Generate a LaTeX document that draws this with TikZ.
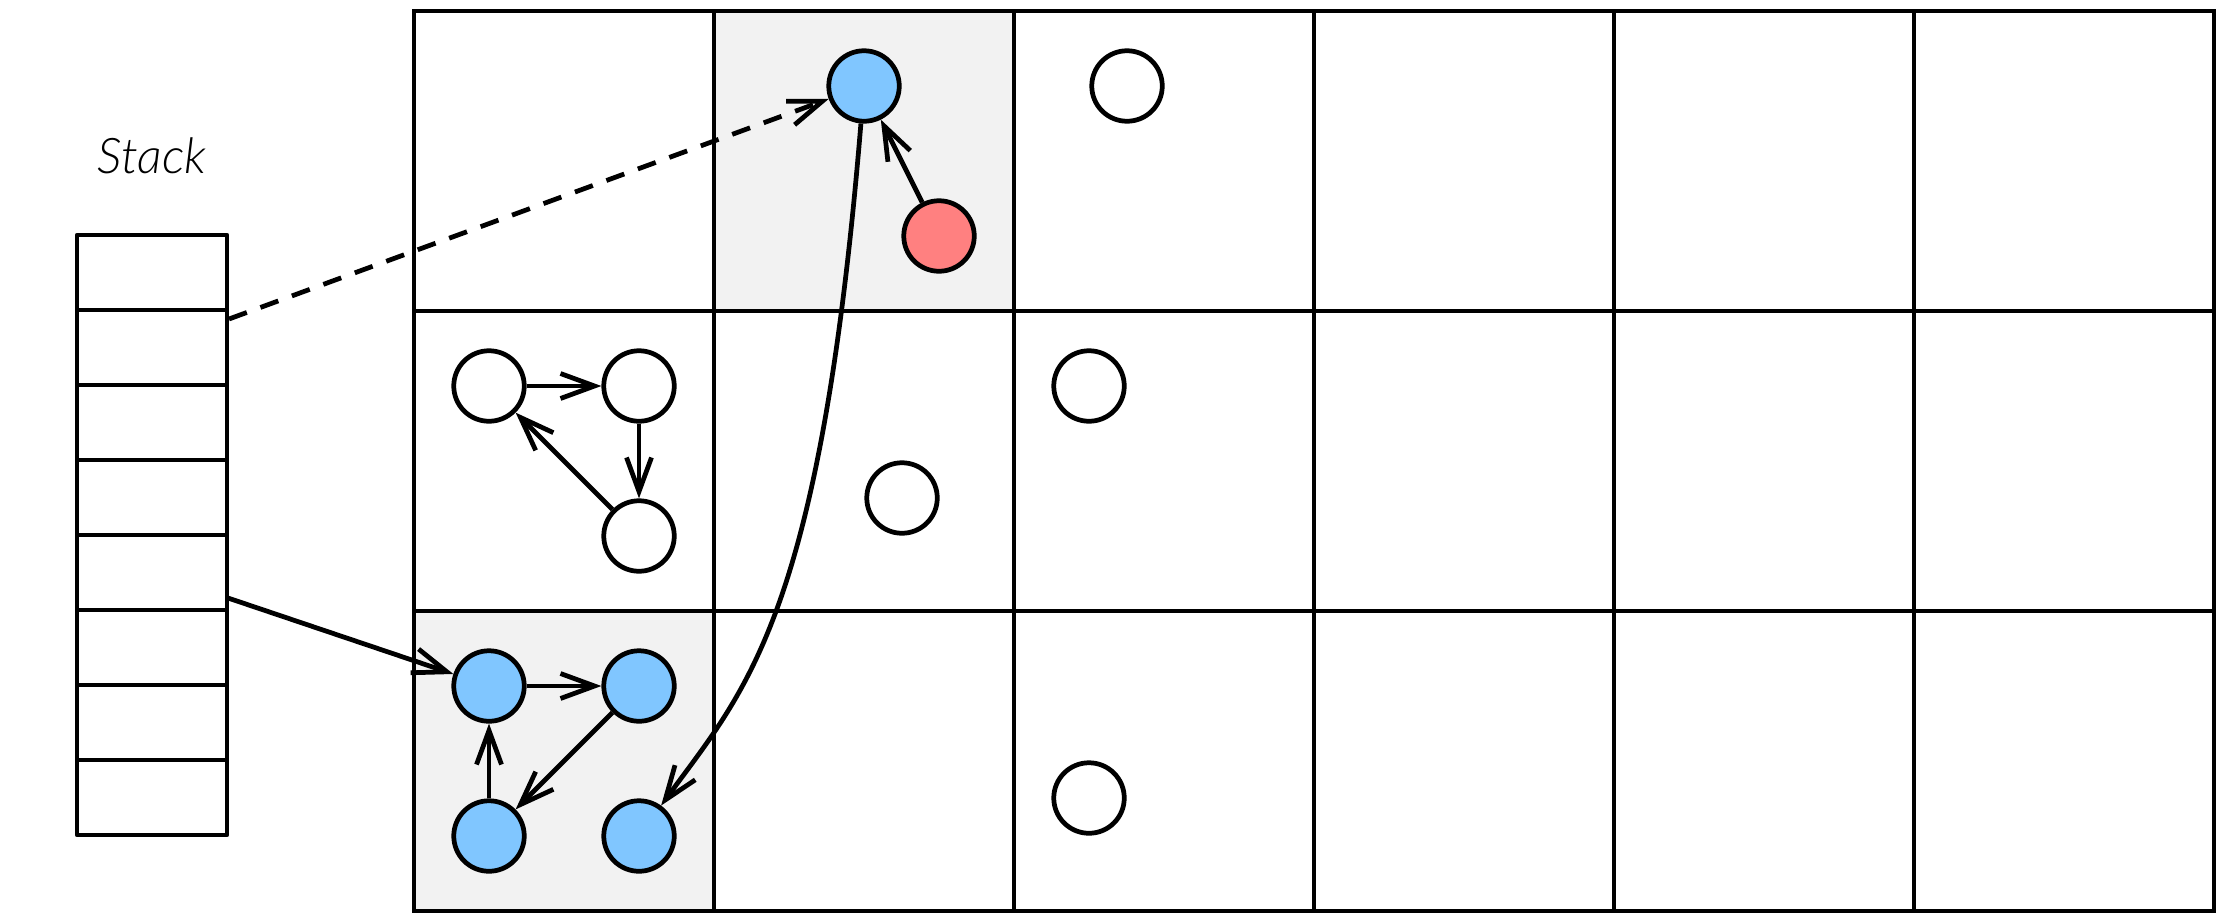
\documentclass[tikz,border=0pt]{standalone}
\usepackage{fontspec}
\newfontfamily\stackfont{Lato}[UprightFont=* Light, ItalicFont=* Light Italic]
\usepackage{tikz}
\usetikzlibrary{positioning, arrows.meta}
\definecolor{visited}{HTML}{80C6FF}
\definecolor{current}{HTML}{FF8080}
\definecolor{cellgray}{HTML}{F2F2F2}

\begin{document}
\begin{tikzpicture}[
  line width=1.35pt,
  obj/.style={draw, circle, minimum size=0.705cm, inner sep=0pt, fill=white},
  live/.style={obj, fill=visited},
  arr/.style={-{Straight Barb[length=3.4mm, width=2.5mm]}},
]
  \useasboundingbox (0,0) rectangle (22.21,9.17);

  % Highlighted cells
  \fill[cellgray] (7.14,6.06) rectangle (10.14,9.06);
  \fill[cellgray] (4.14,0.06) rectangle (7.14,3.06);

  % Heap grid
  \begin{scope}[shift={(4.14,0.06)}]
    \draw[step=3cm, line cap=rect] (0,0) grid (18,9);
  \end{scope}

  % Stack
  \node[font=\stackfont\itshape\fontsize{14}{16}\selectfont] (stacklabel) at (1.52,7.61) {Stack};
  \draw[line join=round] (0.77,0.82) rectangle (2.27,6.82);
  \foreach \y in {1.57,2.32,3.07,3.82,4.57,5.32,6.07}
    \draw (0.77,\y) -- (2.27,\y);
  \coordinate (slot2) at (2.29,5.98);
  \coordinate (slot6) at (2.28,3.19);

  % Objects
  \node[live] (root) at (8.64,8.31) {};
  \node[obj, fill=current] (cur) at (9.39,6.81) {};
  \node[obj] (w1) at (11.27,8.31) {};
  \node[obj] (p1) at (4.89,5.31) {};
  \node[obj] (p2) at (6.39,5.31) {};
  \node[obj] (p3) at (6.39,3.81) {};
  \node[obj] (w2) at (9.02,4.19) {};
  \node[obj] (w3) at (10.89,5.31) {};
  \node[obj] (w4) at (10.89,1.19) {};
  \node[live] (q1) at (4.89,2.31) {};
  \node[live] (q2) at (6.39,2.31) {};
  \node[live] (q3) at (4.89,0.81) {};
  \node[live] (q4) at (6.39,0.81) {};

  % References
  \draw[arr, dash pattern=on 0.19cm off 0.145cm] (slot2) -- (root);
  \draw[arr] (slot6) -- (q1);
  \draw[arr] (cur) -- (root);
  \draw[arr] (p1) -- (p2);
  \draw[arr] (p2) -- (p3);
  \draw[arr] (p3) -- (p1);
  \draw[arr] (q1) -- (q2);
  \draw[arr] (q2) -- (q3);
  \draw[arr] (q3) -- (q1);
  \draw[arr] (root) .. controls +(-0.44,-5.34) and +(1.06,1.46) .. (q4);

\end{tikzpicture}
\end{document}
